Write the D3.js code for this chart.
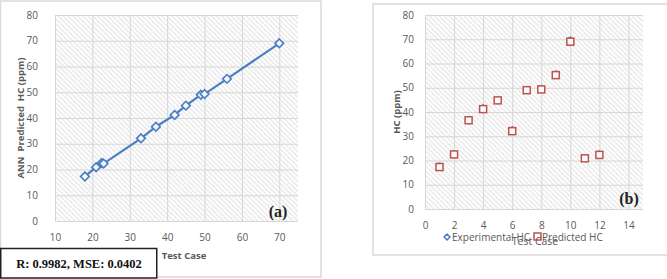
<!DOCTYPE html>
<html>
<head>
<meta charset="utf-8">
<script src="https://cdn.jsdelivr.net/npm/d3@7"></script>
<style>
  body { margin: 0; background: #fff; }
  svg { display: block; }
  .tick text { font-family: "Open Sans", sans-serif; font-size: 10px; fill: #595959; }
</style>
</head>
<body>
<div id="chart"></div>
<script>
// data: test case, experimental HC, ANN predicted HC
const testCases = [1, 2, 3, 4, 5, 6, 7, 8, 9, 10, 11, 12];
const experimentalHC = [18, 22.5, 37, 42, 45, 33, 49, 50, 56, 70, 21, 23];
const predictedHC = [17.3, 22.5, 36.6, 41.2, 44.8, 32.1, 49, 49.3, 55.2, 69, 20.9, 22.3];

const xTicksA = [10, 20, 30, 40, 50, 60, 70];
const xTicksB = [0, 2, 4, 6, 8, 10, 12, 14];
const yTicks = [0, 10, 20, 30, 40, 50, 60, 70, 80];

const blue = "#4a7ec2", red = "#c0504d", grey = "#595959";

const svg = d3.select("#chart").append("svg")
    .attr("width", 667)
    .attr("height", 279);

// hatch fill for plot areas
const defs = svg.append("defs");
defs.append("pattern")
    .attr("id", "hatch")
    .attr("patternUnits", "userSpaceOnUse")
    .attr("width", 3.5).attr("height", 3.5)
    .attr("patternTransform", "rotate(-45)")
    .append("line")
    .attr("x1", 1.75).attr("y1", 0).attr("x2", 1.75).attr("y2", 3.5)
    .attr("stroke", "#dedede").attr("stroke-width", 1);

// outer frames
svg.append("rect").attr("x", 0.5).attr("y", 1).attr("width", 320.5).attr("height", 276)
    .attr("fill", "#fff").attr("stroke", "#d9d9d9").attr("stroke-width", 1.5);
svg.append("rect").attr("x", 373).attr("y", 4).attr("width", 300).attr("height", 251)
    .attr("fill", "#fff").attr("stroke", "#d9d9d9").attr("stroke-width", 1.5);

function panel(xr, yr, xDomain, xTicks, labelGap) {
    const x = d3.scaleLinear().domain(xDomain).range(xr);
    const y = d3.scaleLinear().domain([0, 80]).range(yr);
    const g = svg.append("g");

    g.append("rect")
        .attr("x", xr[0]).attr("y", yr[1])
        .attr("width", xr[1] - xr[0]).attr("height", yr[0] - yr[1])
        .attr("fill", "url(#hatch)");

    // grid
    g.append("g")
        .attr("transform", `translate(0,${yr[0]})`)
        .call(d3.axisBottom(x).tickValues(xTicks).tickSize(-(yr[0] - yr[1])).tickFormat(""))
        .call(a => a.select(".domain").remove())
        .call(a => a.selectAll("line").attr("stroke", "#d6d6d6"));
    g.append("g")
        .attr("transform", `translate(${xr[0]},0)`)
        .call(d3.axisLeft(y).tickValues(yTicks).tickSize(-(xr[1] - xr[0])).tickFormat(""))
        .call(a => a.select(".domain").remove())
        .call(a => a.selectAll("line").attr("stroke", "#d6d6d6"));

    // tick labels
    g.append("g")
        .attr("transform", `translate(0,${yr[0] + 10})`)
        .call(d3.axisBottom(x).tickValues(xTicks).tickSize(0))
        .call(a => a.select(".domain").remove());
    g.append("g")
        .attr("transform", `translate(${xr[0] - labelGap},0)`)
        .call(d3.axisLeft(y).tickValues(yTicks).tickSize(0))
        .call(a => a.select(".domain").remove());

    return { x, y, g };
}

// ---- (a) predicted vs experimental
const A = panel([55, 298], [221, 15], [10, 75], xTicksA, 14);
const pairs = d3.sort(d3.zip(experimentalHC, predictedHC), d => d[0]);

A.g.append("path")
    .datum(pairs)
    .attr("fill", "none")
    .attr("stroke", blue)
    .attr("stroke-width", 2.2)
    .attr("d", d3.line().x(d => A.x(d[0])).y(d => A.y(d[1])));

A.g.selectAll(".pa")
    .data(pairs)
    .join("path")
    .attr("transform", d => `translate(${A.x(d[0])},${A.y(d[1])})`)
    .attr("d", d3.symbol(d3.symbolDiamond2, 48))
    .attr("fill", "#f4f7fb")
    .attr("stroke", blue)
    .attr("stroke-width", 1.6);

svg.append("text")
    .attr("transform", "translate(24,118) rotate(-90)")
    .attr("text-anchor", "middle")
    .style("font-family", "Open Sans, sans-serif")
    .style("font-size", "9.5px").style("font-weight", "bold")
    .attr("fill", grey)
    .attr("xml:space", "preserve")
    .text("ANN  Predicted  HC (ppm)");

svg.append("text")
    .attr("x", 184).attr("y", 259)
    .attr("text-anchor", "middle")
    .style("font-family", "Open Sans, sans-serif")
    .style("font-size", "9.5px").style("font-weight", "bold")
    .attr("fill", grey)
    .text("Test Case");

svg.append("text")
    .attr("x", 278).attr("y", 217)
    .attr("text-anchor", "middle")
    .style("font-family", "Liberation Serif, serif")
    .style("font-size", "16px").style("font-weight", "bold")
    .attr("fill", "#222")
    .text("(a)");

svg.append("rect")
    .attr("x", 0.75).attr("y", 248.5).attr("width", 156).attr("height", 29.5)
    .attr("fill", "#fff").attr("stroke", "#222").attr("stroke-width", 1.5);
svg.append("text")
    .attr("x", 79).attr("y", 268)
    .attr("text-anchor", "middle")
    .style("font-family", "Liberation Serif, serif")
    .style("font-size", "12.5px").style("font-weight", "bold")
    .attr("fill", "#111")
    .text("R: 0.9982, MSE: 0.0402");

// ---- (b) HC per test case
const B = panel([425, 643], [209, 15], [0, 15], xTicksB, 8);

B.g.selectAll(".exp")
    .data(testCases)
    .join("path")
    .attr("transform", (d, i) => `translate(${B.x(d)},${B.y(experimentalHC[i])})`)
    .attr("d", d3.symbol(d3.symbolDiamond2, 28))
    .attr("fill", blue);

B.g.selectAll(".pred")
    .data(testCases)
    .join("rect")
    .attr("x", (d, i) => B.x(d) - 3.5)
    .attr("y", (d, i) => B.y(predictedHC[i]) - 3.5)
    .attr("width", 7).attr("height", 7)
    .attr("fill", "#fff")
    .attr("stroke", red)
    .attr("stroke-width", 1.5);

svg.append("text")
    .attr("transform", "translate(400,112) rotate(-90)")
    .attr("text-anchor", "middle")
    .style("font-family", "Open Sans, sans-serif")
    .style("font-size", "9.5px").style("font-weight", "bold")
    .attr("fill", grey)
    .text("HC (ppm)");

svg.append("text")
    .attr("x", 629).attr("y", 204)
    .attr("text-anchor", "middle")
    .style("font-family", "Liberation Serif, serif")
    .style("font-size", "16px").style("font-weight", "bold")
    .attr("fill", "#222")
    .text("(b)");

// legend (overlaps the axis title, as in the original)
const legend = svg.append("g").attr("transform", "translate(447,237)");
legend.append("path")
    .attr("d", d3.symbol(d3.symbolDiamond2, 22))
    .attr("fill", "#fff").attr("stroke", blue).attr("stroke-width", 1.5);
legend.append("text").attr("x", 5).attr("y", 3.5)
    .style("font-family", "Open Sans, sans-serif").style("font-size", "10px")
    .attr("fill", grey).text("Experimental HC");
legend.append("rect").attr("x", 87).attr("y", -4).attr("width", 7).attr("height", 7)
    .attr("fill", "#fff").attr("stroke", red).attr("stroke-width", 1.5);
legend.append("text").attr("x", 95).attr("y", 3.5)
    .style("font-family", "Open Sans, sans-serif").style("font-size", "10px")
    .attr("fill", grey).text("Predicted HC");

svg.append("text")
    .attr("x", 535).attr("y", 245)
    .attr("text-anchor", "middle")
    .style("font-family", "Open Sans, sans-serif")
    .style("font-size", "10.5px")
    .attr("fill", grey)
    .text("Test Case");
</script>
</body>
</html>
